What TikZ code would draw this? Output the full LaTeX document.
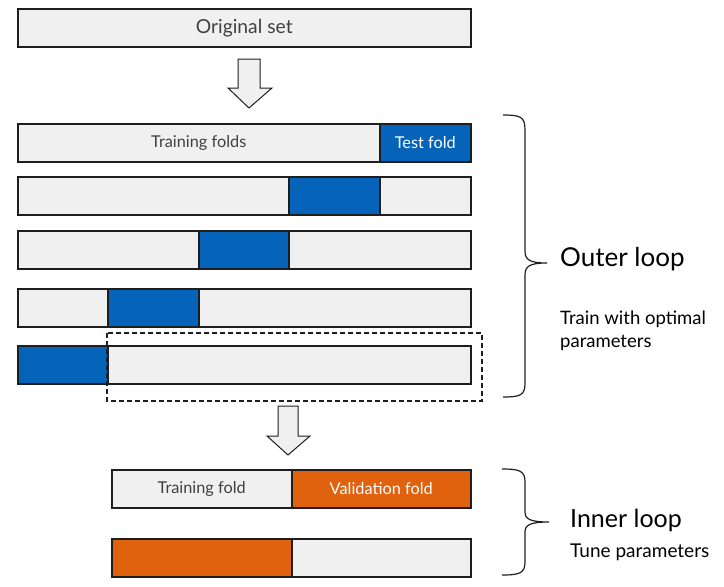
\documentclass[tikz,border=0pt]{standalone}
\usepackage{fontspec}
\setmainfont{Lato}
\usepackage{tikz}
\usetikzlibrary{positioning,calc}

\definecolor{foldgray}{RGB}{240,240,240}
\definecolor{foldblue}{RGB}{5,99,185}
\definecolor{foldorange}{RGB}{224,97,14}
\definecolor{textgray}{RGB}{64,64,64}
\definecolor{edgegray}{RGB}{30,30,30}

\tikzset{
  fold/.style={draw=edgegray,line width=1.5pt,fill=foldgray,anchor=north west,
    minimum height=38pt,inner sep=0pt,text=textgray,font=\fontsize{16.3}{19}\selectfont},
  testfold/.style={fold,fill=foldblue,text=white},
  valfold/.style={fold,fill=foldorange,text=white},
  blockarrow/.style={draw=edgegray,line width=1pt,fill=foldgray,line join=miter},
  loopbrace/.style={draw=edgegray,line width=1.2pt},
}

\begin{document}
\begin{tikzpicture}[x=1pt,y=-1pt]
	\useasboundingbox (0,0) rectangle (724,587);

	% original data
	\node [fold,minimum width=453pt,font=\fontsize{19.3}{22}\selectfont] (orig) at (17,8) {Original set};

	% outer loop splits
	\begin{scope}
		\node [fold,minimum width=362pt] (train1) at (17,123) {Training folds};
		\node [testfold,minimum width=91pt] (test1) at (379,123) {Test fold};

		\node [fold,minimum width=271pt] (trainA2) at (17,176) {};
		\node [testfold,minimum width=91pt] (test2) at (288,176) {};
		\node [fold,minimum width=91pt] (trainB2) at (379,176) {};

		\node [fold,minimum width=181pt] (trainA3) at (17,230) {};
		\node [testfold,minimum width=90pt] (test3) at (198,230) {};
		\node [fold,minimum width=182pt] (trainB3) at (288,230) {};

		\node [fold,minimum width=90pt] (trainA4) at (17,288) {};
		\node [testfold,minimum width=91pt] (test4) at (107,288) {};
		\node [fold,minimum width=272pt] (trainB4) at (198,288) {};

		\node [testfold,minimum width=90pt] (test5) at (17,345) {};
		\node [fold,minimum width=363pt] (train5) at (107,345) {};
	\end{scope}

	\draw [edgegray,line width=1.2pt,dash pattern=on 5pt off 3pt] (107,333) rectangle (482,401);

	% inner loop splits
	\begin{scope}
		\node [fold,minimum width=180pt] (itrain1) at (111,469) {Training fold};
		\node [valfold,minimum width=179pt] (ival1) at (291,469) {Validation fold};

		\node [valfold,minimum width=180pt] (ival2) at (111,538) {};
		\node [fold,minimum width=179pt] (itrain2) at (291,538) {};
	\end{scope}

	% block arrows
	\draw [blockarrow] (238,59) -- (260,59) -- (260,88) -- (272,88) -- (249,108)
		-- (228,88) -- (238,88) -- cycle;
	\draw [blockarrow] (278,406) -- (298,406) -- (298,436) -- (310,436) -- (288,455)
		-- (267,436) -- (278,436) -- cycle;

	% braces
	\draw [loopbrace] (503,115) .. controls (521,115) and (525,117) .. (525,130)
		-- (525,251) .. controls (525,260) and (530,263) .. (547,263)
		.. controls (530,263) and (525,266) .. (525,275)
		-- (525,383) .. controls (525,395) and (521,397) .. (503,397);
	\draw [loopbrace] (502,469) .. controls (520,469) and (525,471) .. (525,482)
		-- (525,512) .. controls (525,519) and (530,522) .. (549,522)
		.. controls (530,522) and (525,525) .. (525,532)
		-- (525,562) .. controls (525,573) and (520,575) .. (502,575);

	% labels
	\node [anchor=base west,inner sep=0pt,font=\fontsize{26}{30}\selectfont] (outer) at (560,266) {Outer loop};
	\node [anchor=base west,inner sep=0pt,align=left,font=\fontsize{18.5}{23}\selectfont] (outertxt) at (560,347) {Train with optimal\\parameters};
	\node [anchor=base west,inner sep=0pt,font=\fontsize{25}{30}\selectfont] (inner) at (570,527) {Inner loop};
	\node [anchor=base west,inner sep=0pt,font=\fontsize{19}{22}\selectfont] (innertxt) at (570,557) {Tune parameters};
\end{tikzpicture}
\end{document}
